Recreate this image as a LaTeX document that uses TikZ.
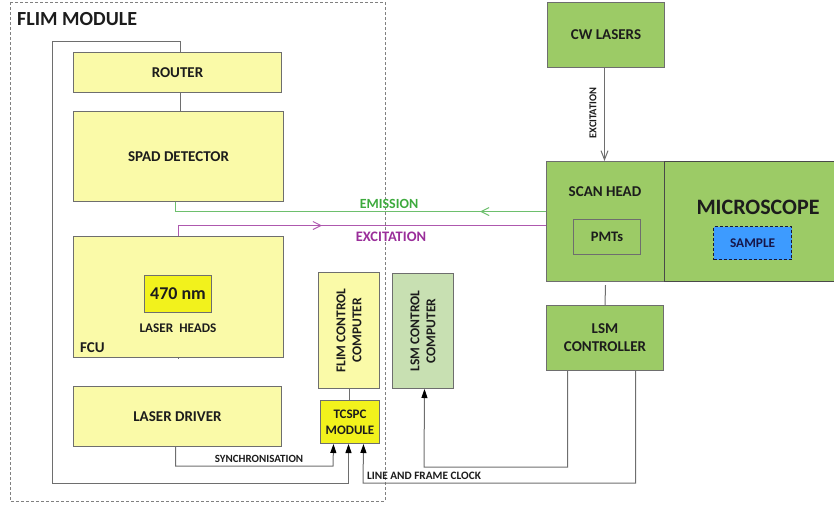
\documentclass[tikz,border=0pt]{standalone}
\usepackage{fontspec}
\setmainfont{Carlito}
\usetikzlibrary{arrows.meta,decorations.markings,calc}

\definecolor{paleyellow}{HTML}{FAFAA8}
\definecolor{brightyellow}{HTML}{F2F21C}
\definecolor{leafgreen}{HTML}{9CCB66}
\definecolor{palegreen}{HTML}{C8E0B2}
\definecolor{sampleblue}{HTML}{3D9BFF}
\definecolor{inkdark}{HTML}{1C1C1C}
\definecolor{wiregray}{HTML}{6E6E6E}
\definecolor{emgreen}{HTML}{3DAA3D}
\definecolor{exviolet}{HTML}{9A2E9A}

\tikzset{
  box/.style={draw=wiregray, line width=1pt, inner sep=0pt, anchor=north west,
    text=inkdark, font=\bfseries\fontsize{15}{18}\selectfont, align=center},
  ybox/.style={box, fill=paleyellow},
  gbox/.style={box, fill=leafgreen},
  wire/.style={draw=wiregray, line width=1pt},
  filledtip/.style={-{Triangle[length=9pt,width=6pt,color=black]}},
  lbl/.style={text=inkdark, font=\bfseries\fontsize{11}{13}\selectfont, inner sep=0pt},
  barbmark/.style={postaction={decorate, decoration={markings,
    mark=at position #1 with {\arrow{Straight Barb[length=8pt,width=8pt,line width=1pt]}}}}}
}

\begin{document}
\begin{tikzpicture}[x=1pt,y=-1pt]
\useasboundingbox (0,0) rectangle (834,504);

% FLIM module frame
\draw[draw=gray, line width=0.8pt, dash pattern=on 3pt off 2pt] (10,2) rectangle (385,501);
\node[anchor=base west, inner sep=0pt, text=inkdark, font=\bfseries\fontsize{20}{24}\selectfont] (flimtitle) at (17,25) {FLIM MODULE};

% FLIM module blocks
\node[ybox, minimum width=208pt, minimum height=40pt] (router) at (73,52) {ROUTER};
\node[ybox, minimum width=210pt, minimum height=90pt] (spad) at (73,111) {SPAD DETECTOR};
\node[ybox, minimum width=210pt, minimum height=121pt] (fcu) at (73,236) {};
\node[box, fill=brightyellow, minimum width=67pt, minimum height=37pt, font=\bfseries\fontsize{18}{21}\selectfont] (nm) at (144,275) {470 nm};
\node[lbl, font=\bfseries\fontsize{13.2}{16}\selectfont] (heads) at (178,328) {LASER\ \ HEADS};
\node[lbl, anchor=base west, font=\bfseries\fontsize{15}{18}\selectfont] (fculbl) at (80,352) {FCU};
\node[ybox, minimum width=208pt, minimum height=60pt] (driver) at (73,386) {LASER DRIVER};
\node[ybox, minimum width=61pt, minimum height=116pt] (flimcc) at (318,272) {};
\node[lbl, rotate=90, align=center, font=\bfseries\fontsize{13.5}{16}\selectfont] at (flimcc.center) {FLIM CONTROL\\COMPUTER};
\node[box, fill=brightyellow, minimum width=59pt, minimum height=43pt, font=\bfseries\fontsize{13}{16}\selectfont] (tcspc) at (320,400) {TCSPC\\MODULE};

% LSM side
\node[box, fill=palegreen, minimum width=61pt, minimum height=115pt] (lsmcc) at (392,273) {};
\node[lbl, rotate=90, align=center, font=\bfseries\fontsize{13.5}{16}\selectfont] at (lsmcc.center) {LSM CONTROL\\COMPUTER};
\node[gbox, minimum width=117pt, minimum height=65pt] (cw) at (547,2) {CW LASERS};
\node[gbox, minimum width=118pt, minimum height=120pt] (scan) at (546,161) {};
\node[gbox, draw=inkdark!80, minimum width=170pt, minimum height=120pt] (micro) at (664,161) {};
\node[lbl, font=\bfseries\fontsize{15}{18}\selectfont] (scanlbl) at (605,192) {SCAN HEAD};
\node[box, minimum width=67pt, minimum height=35pt, font=\bfseries\fontsize{14.5}{17}\selectfont] (pmts) at (573,219) {PMTs};
\node[lbl, font=\bfseries\fontsize{22}{26}\selectfont] (microlbl) at (758,207) {MICROSCOPE};
\node[box, fill=sampleblue, draw=inkdark!90!blue, line width=1.2pt, dash pattern=on 3pt off 2pt,
  minimum width=78pt, minimum height=33pt, font=\bfseries\fontsize{13.3}{16}\selectfont, text=inkdark!80!blue] (sample) at (713,226) {SAMPLE};
\node[gbox, minimum width=117pt, minimum height=65pt] (lsmctrl) at (546,305) {LSM\\CONTROLLER};

% module links
\draw[wire] ([xshift=3pt]router.south) -- ([xshift=2pt]spad.north);
\draw[wire] (fcu.south) -- (fcu.south -| driver.south);
\draw[wire] (flimcc.south) -- (flimcc.south |- tcspc.north);
\draw[wire] (scan.south) ++(0,3) -- (lsmctrl.north);

% router feedback to TCSPC
\coordinate (loopTop) at (52,41);
\coordinate (loopBot) at (52,483);
\draw[wire, filledtip] ([xshift=3pt]router.north) |- (loopTop) -- (loopBot) -| ([xshift=-1.5pt]tcspc.south);

% synchronisation
\draw[wire, filledtip] ([xshift=-2pt]driver.south) |- (333,466) -- ([xshift=-16.5pt]tcspc.south);
\node[lbl] (synclbl) at (259,459) {SYNCHRONISATION};

% line and frame clock
\draw[wire, filledtip] ([xshift=30.5pt]lsmctrl.south) |- (363,483) -- ([xshift=13.5pt]tcspc.south);
\draw[wire, filledtip] ([xshift=-37.5pt]lsmctrl.south) |- (424,467) -- ([xshift=1.5pt]lsmcc.south);
\node[lbl, font=\bfseries\fontsize{11.3}{13}\selectfont] (clocklbl) at (424,476) {LINE AND FRAME CLOCK};

% optical paths
\draw[draw=emgreen!75!white, line width=1pt, barbmark=66pt] ([yshift=10pt]scan.west) -| ([xshift=-3pt]spad.south);
\node[lbl, text=emgreen, font=\bfseries\fontsize{14}{17}\selectfont] (emlbl) at (389,204) {EMISSION};
\draw[draw=exviolet!80!white, line width=1pt, barbmark=154pt] (fcu.north) |- ([yshift=-4pt]scan.west);
\node[lbl, text=exviolet, font=\bfseries\fontsize{14.5}{17}\selectfont] (exlbl) at (391,237) {EXCITATION};

% CW excitation
\draw[wire, -{Straight Barb[length=9pt,width=7pt,line width=1pt]}] ([xshift=-1.5pt]cw.south) -- ([xshift=-1pt]scan.north);
\node[lbl, rotate=90, font=\bfseries\fontsize{10.5}{12}\selectfont] (cwexlbl) at (593,113) {EXCITATION};
\end{tikzpicture}
\end{document}
